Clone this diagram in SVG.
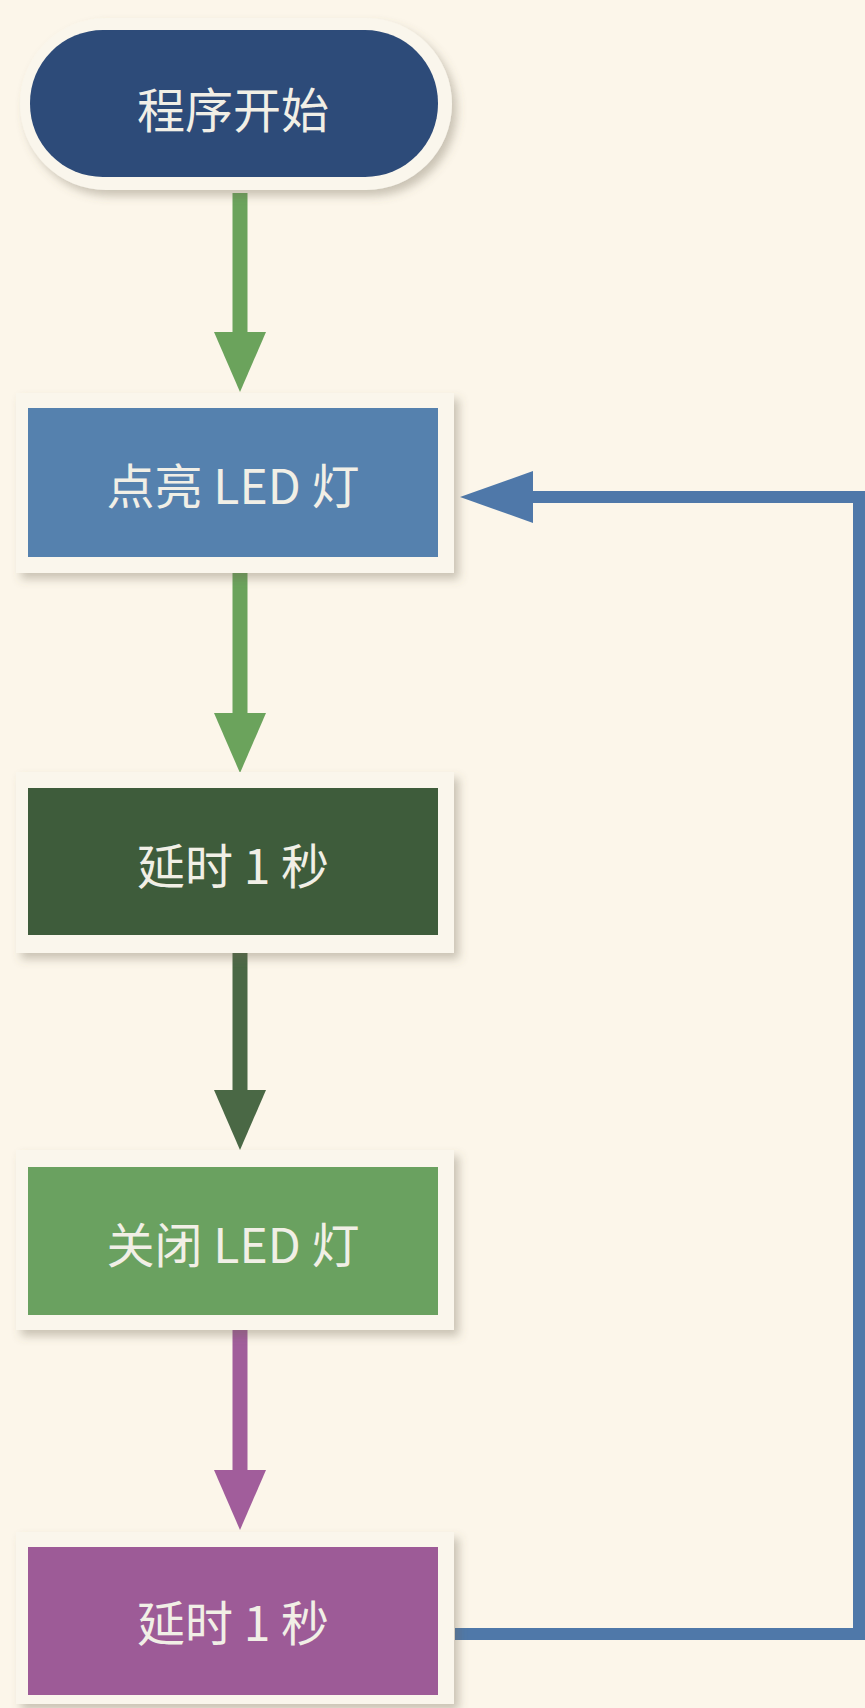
<svg xmlns="http://www.w3.org/2000/svg" width="865" height="1708" viewBox="0 0 865 1708">
<style>
.frame{fill:#faf6ec;filter:url(#sh)}
.lbl{font-family:"Noto Sans CJK SC","Noto Sans",sans-serif;font-size:48px;fill:#f1efe6;text-anchor:middle;dominant-baseline:central}
.conn{fill:none;stroke-linejoin:miter}
</style>
<defs>
<filter id="sh" x="-10%" y="-10%" width="125%" height="130%">
<feDropShadow dx="5" dy="6" stdDeviation="5" flood-color="#6b6250" flood-opacity="0.35"/>
</filter>
<marker id="hG" markerUnits="userSpaceOnUse" viewBox="0 0 60 52" markerWidth="60" markerHeight="52" refX="0" refY="26" orient="auto"><path d="M0,0 L60,26 L0,52 Z" fill="#6ba35c"/></marker>
<marker id="hD" markerUnits="userSpaceOnUse" viewBox="0 0 60 52" markerWidth="60" markerHeight="52" refX="0" refY="26" orient="auto"><path d="M0,0 L60,26 L0,52 Z" fill="#4a6845"/></marker>
<marker id="hP" markerUnits="userSpaceOnUse" viewBox="0 0 60 52" markerWidth="60" markerHeight="52" refX="0" refY="26" orient="auto"><path d="M0,0 L60,26 L0,52 Z" fill="#a15d9b"/></marker>
<marker id="hB" markerUnits="userSpaceOnUse" viewBox="0 0 73 52" markerWidth="73" markerHeight="52" refX="0" refY="26" orient="auto"><path d="M0,0 L73,26 L0,52 Z" fill="#4f78a9"/></marker>
</defs>
<rect x="0" y="0" width="865" height="1708" fill="#fcf6ea"/>
<g id="connectors">
<path class="conn" d="M240,193 V332" stroke="#6ba35c" stroke-width="15" marker-end="url(#hG)"/>
<path class="conn" d="M240,573 V713" stroke="#6ba35c" stroke-width="15" marker-end="url(#hG)"/>
<path class="conn" d="M240,953 V1090" stroke="#4a6845" stroke-width="15" marker-end="url(#hD)"/>
<path class="conn" d="M240,1330 V1470" stroke="#a15d9b" stroke-width="15" marker-end="url(#hP)"/>
<path class="conn" d="M455,1634 H859 V497 H533" stroke="#4f78a9" stroke-width="12" marker-end="url(#hB)"/>
</g>
<g id="start">
<rect class="frame" x="20" y="18" width="432" height="172" rx="86"/>
<rect x="30" y="30" width="408" height="147" rx="73" fill="#2d4b79"/>
<text class="lbl" x="233" y="107">程序开始</text>
</g>
<g id="led_on">
<rect class="frame" x="16" y="393" width="438" height="180"/>
<rect x="28" y="408" width="410" height="149" fill="#5581ae"/>
<text class="lbl" x="233" y="483">点亮 LED 灯</text>
</g>
<g id="delay1">
<rect class="frame" x="16" y="772" width="438" height="181"/>
<rect x="28" y="788" width="410" height="147" fill="#3e5c3b"/>
<text class="lbl" x="233" y="863">延时 1 秒</text>
</g>
<g id="led_off">
<rect class="frame" x="16" y="1150" width="438" height="180"/>
<rect x="28" y="1167" width="410" height="148" fill="#6aa160"/>
<text class="lbl" x="233" y="1242">关闭 LED 灯</text>
</g>
<g id="delay2">
<rect class="frame" x="16" y="1532" width="438" height="172"/>
<rect x="28" y="1547" width="410" height="148" fill="#9d5b97"/>
<text class="lbl" x="233" y="1620">延时 1 秒</text>
</g>
</svg>
